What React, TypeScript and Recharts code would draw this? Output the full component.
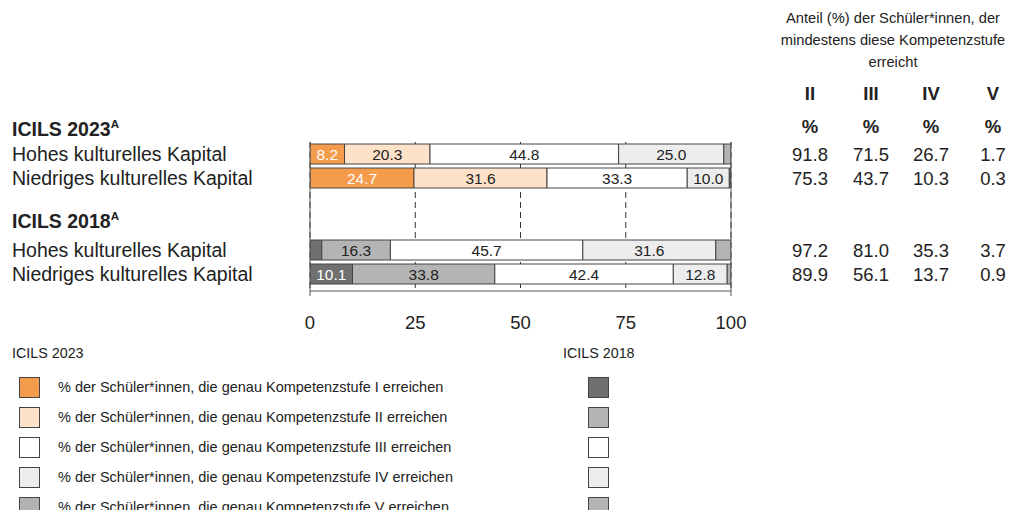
import React from 'react';
import {
  BarChart,
  Bar,
  XAxis,
  YAxis,
  CartesianGrid,
  ReferenceLine,
  LabelList,
  Cell,
} from 'recharts';

// rows of the chart (two empty rows separate 2023 and 2018)
const categories = ['h2023', 'n2023', 'gapA', 'gapB', 'h2018', 'n2018'];
const rowLabels = [
  'Hohes kulturelles Kapital',
  'Niedriges kulturelles Kapital',
  '',
  '',
  'Hohes kulturelles Kapital',
  'Niedriges kulturelles Kapital',
];
const rowYears = [2023, 2023, 0, 0, 2018, 2018];

// % der Schüler*innen, die genau Kompetenzstufe X erreichen
const stufeI = [8.2, 24.7, null, null, 2.8, 10.1];
const stufeII = [20.3, 31.6, null, null, 16.3, 33.8];
const stufeIII = [44.8, 33.3, null, null, 45.7, 42.4];
const stufeIV = [25.0, 10.0, null, null, 31.6, 12.8];
const stufeV = [1.7, 0.3, null, null, 3.7, 0.9];

// Anteil, der mindestens diese Stufe erreicht
const mindII = [91.8, 75.3, null, null, 97.2, 89.9];
const mindIII = [71.5, 43.7, null, null, 81.0, 56.1];
const mindIV = [26.7, 10.3, null, null, 35.3, 13.7];
const mindV = [1.7, 0.3, null, null, 3.7, 0.9];

const tableHeads = ['II', 'III', 'IV', 'V'];
const xTicks = [0, 25, 50, 75, 100];
const levels = ['I', 'II', 'III', 'IV', 'V'];

const colors2023 = ['#F59C4C', '#FDE1C8', '#FFFFFF', '#EDEDED', '#B2B2B2'];
const colors2018 = ['#707070', '#B4B4B4', '#FFFFFF', '#EDEDED', '#B4B4B4'];
const whiteText2023 = [true, false, false, false, false];
const whiteText2018 = [true, true, false, false, false];

const legendLabels = [
  '% der Schüler*innen, die genau Kompetenzstufe I erreichen',
  '% der Schüler*innen, die genau Kompetenzstufe II erreichen',
  '% der Schüler*innen, die genau Kompetenzstufe III erreichen',
  '% der Schüler*innen, die genau Kompetenzstufe IV erreichen',
  '% der Schüler*innen, die genau Kompetenzstufe V erreichen',
];

const data = categories.map((name, i) => ({
  name,
  I: stufeI[i],
  II: stufeII[i],
  III: stufeIII[i],
  IV: stufeIV[i],
  V: stufeV[i],
}));

const tableCols = [mindII, mindIII, mindIV, mindV];
const colX = [810, 871, 931, 993];
const FONT = '"Liberation Sans", Arial, Helvetica, sans-serif';
const TEXT = '#222';

const LeftTick = (props: any) => {
  const i = categories.indexOf(props.payload.value);
  if (!rowLabels[i]) return <g />;
  return (
    <text x={12} y={props.y} dominantBaseline="central" fontSize={19.5} fill={TEXT}>
      {rowLabels[i]}
    </text>
  );
};

const RightTick = (props: any) => {
  const i = categories.indexOf(props.payload.value);
  return (
    <g>
      {tableCols.map((col, c) =>
        col[i] == null ? null : (
          <text
            key={c}
            x={colX[c]}
            y={props.y}
            dominantBaseline="central"
            textAnchor="middle"
            fontSize={18.5}
            fill={TEXT}
          >
            {col[i]!.toFixed(1)}
          </text>
        )
      )}
    </g>
  );
};

const XTick = (props: any) => {
  const { x, y, payload } = props;
  const edge = payload.value === 0 || payload.value === 100;
  return (
    <g>
      {edge && <line x1={x} x2={x} y1={y - 25} y2={y - 20} stroke="#555" />}
      <text x={x} y={y} dy="0.71em" textAnchor="middle" fontSize={18.5} fill={TEXT}>
        {payload.value}
      </text>
    </g>
  );
};

const makeLabel = (li: number) => (props: any) => {
  const vb = props.viewBox || {};
  const x = props.x ?? vb.x;
  const y = props.y ?? vb.y;
  const width = props.width ?? vb.width;
  const height = props.height ?? vb.height;
  const { value, index } = props;
  if (value == null || width < 20) return null;
  const white = rowYears[index] === 2018 ? whiteText2018[li] : whiteText2023[li];
  return (
    <text
      x={x + width / 2}
      y={y + height / 2}
      textAnchor="middle"
      dominantBaseline="central"
      fontSize={15.5}
      fill={white ? '#FFFFFF' : TEXT}
    >
      {Number(value).toFixed(1)}
    </text>
  );
};

const abs = (left: number, top: number, extra: React.CSSProperties = {}): React.CSSProperties => ({
  position: 'absolute',
  left,
  top,
  transform: 'translateY(-50%)',
  lineHeight: 1,
  whiteSpace: 'nowrap',
  ...extra,
});

const Swatch = ({ left, top, color }: { left: number; top: number; color: string }) => (
  <div
    style={{
      position: 'absolute',
      left,
      top: top - 10,
      width: 21,
      height: 21,
      boxSizing: 'border-box',
      border: '1px solid #444',
      background: color,
    }}
  />
);

export default function App() {
  return (
    <div
      style={{
        position: 'relative',
        width: 1014,
        height: 518,
        margin: -8,
        fontFamily: FONT,
        color: TEXT,
        background: '#fff',
        overflow: 'hidden',
      }}
    >
      <BarChart
        layout="vertical"
        width={1014}
        height={340}
        data={data}
        margin={{ top: 142, right: 0, bottom: 9, left: 12 }}
        style={{ position: 'absolute', left: 0, top: 0 }}
      >
        <CartesianGrid horizontal={false} stroke="#333" strokeDasharray="6 4" />
        <XAxis
          type="number"
          domain={[0, 100]}
          ticks={xTicks}
          height={40}
          axisLine={{ stroke: '#555' }}
          tickLine={false}
          tickSize={5}
          tickMargin={20}
          tick={<XTick />}
          allowDataOverflow
        />
        <YAxis
          type="category"
          dataKey="name"
          width={298}
          axisLine={false}
          tickLine={false}
          padding={{ top: 0, bottom: 5 }}
          tick={<LeftTick />}
        />
        <YAxis
          yAxisId="table"
          orientation="right"
          type="category"
          dataKey="name"
          width={283}
          axisLine={false}
          tickLine={false}
          padding={{ top: 0, bottom: 5 }}
          tick={<RightTick />}
        />
        {levels.map((lv, li) => (
          <Bar
            key={lv}
            dataKey={lv}
            stackId="a"
            barSize={20}
            stroke="#444"
            strokeWidth={1}
            isAnimationActive={false}
          >
            {data.map((d, i) => (
              <Cell key={d.name} fill={rowYears[i] === 2018 ? colors2018[li] : colors2023[li]} />
            ))}
            <LabelList dataKey={lv} content={makeLabel(li)} />
          </Bar>
        ))}
        <ReferenceLine x={0} stroke="#555" />
        <ReferenceLine x={100} stroke="#555" />
      </BarChart>

      {/* headers on the left */}
      <div style={abs(12, 130, { fontWeight: 'bold', fontSize: 19.5 })}>
        ICILS 2023
        <span style={{ fontSize: 11.5, position: 'relative', top: -8 }}>A</span>
      </div>
      <div style={abs(12, 222, { fontWeight: 'bold', fontSize: 19.5 })}>
        ICILS 2018
        <span style={{ fontSize: 11.5, position: 'relative', top: -8 }}>A</span>
      </div>

      {/* table header on the right */}
      <div
        style={{
          position: 'absolute',
          left: 763,
          top: 7,
          width: 260,
          textAlign: 'center',
          fontSize: 14.7,
          lineHeight: '22px',
        }}
      >
        Anteil (%) der Schüler*innen, der
        <br />
        mindestens diese Kompetenzstufe
        <br />
        erreicht
      </div>
      {tableHeads.map((h, c) => (
        <React.Fragment key={h}>
          <div
            style={{
              ...abs(colX[c] - 30, 94, { fontWeight: 'bold', fontSize: 18.5 }),
              width: 60,
              textAlign: 'center',
            }}
          >
            {h}
          </div>
          <div
            style={{
              ...abs(colX[c] - 30, 127, { fontWeight: 'bold', fontSize: 18.5 }),
              width: 60,
              textAlign: 'center',
            }}
          >
            %
          </div>
        </React.Fragment>
      ))}

      {/* legend */}
      <div style={abs(12, 353, { fontSize: 14.3 })}>ICILS 2023</div>
      <div style={abs(563, 353, { fontSize: 14.3 })}>ICILS 2018</div>
      {legendLabels.map((lab, i) => {
        const y = 387 + i * 30;
        return (
          <React.Fragment key={lab}>
            <Swatch left={19} top={y} color={colors2023[i]} />
            <div style={abs(58, y, { fontSize: 14.5 })}>{lab}</div>
            <Swatch left={588} top={y} color={colors2018[i]} />
          </React.Fragment>
        );
      })}
    </div>
  );
}
